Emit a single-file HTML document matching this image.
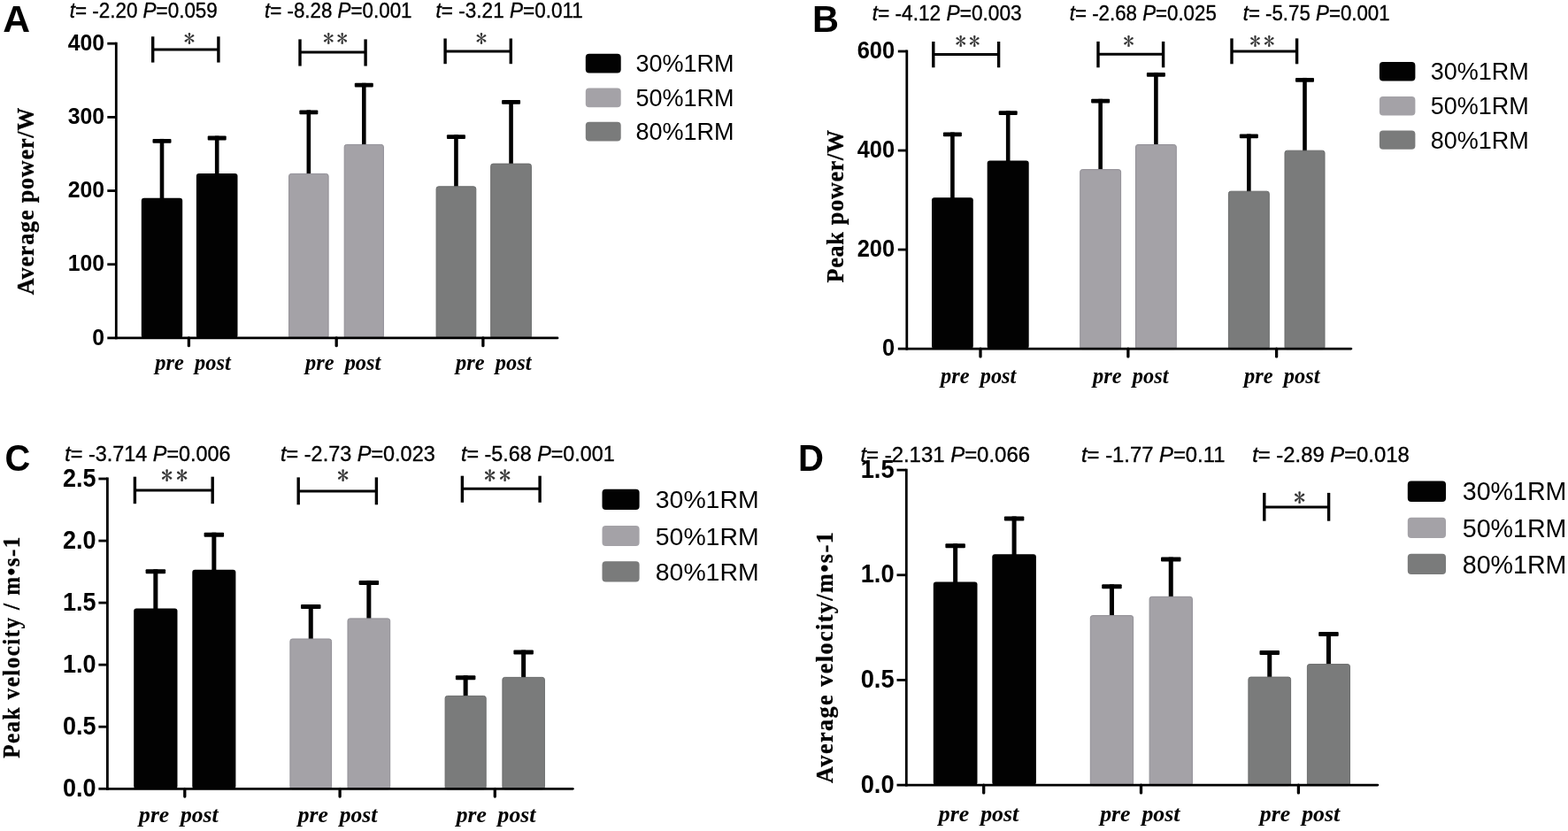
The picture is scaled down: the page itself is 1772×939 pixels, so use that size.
<!DOCTYPE html>
<html><head><meta charset="utf-8"><title>Figure</title>
<style>html,body{margin:0;padding:0;background:#fff;}svg{display:block;}</style>
</head><body>
<svg width="1772" height="939" viewBox="0 0 1772 939">
<rect width="1772" height="939" fill="#fff"/>
<text transform="translate(3.3,35.8) scale(0.985,1)" font-family="'Liberation Sans', Arial, sans-serif" font-weight="bold" font-size="43.3">A</text>
<rect x="180.7" y="156.9" width="4.6" height="68.9" fill="#000"/>
<rect x="172.5" y="156.9" width="21" height="4.8" rx="1" fill="#000"/>
<rect x="159.8" y="223.8" width="46.4" height="158.1" rx="3" fill="#020202"/>
<rect x="242.9" y="153.6" width="4.6" height="44.3" fill="#000"/>
<rect x="234.7" y="153.6" width="21" height="4.8" rx="1" fill="#000"/>
<rect x="221.9" y="195.9" width="46.6" height="186" rx="3" fill="#020202"/>
<rect x="346.55" y="124.4" width="4.6" height="73.5" fill="#000"/>
<rect x="338.35" y="124.4" width="21" height="4.8" rx="1" fill="#000"/>
<rect x="326.6" y="196.4" width="44.5" height="186" rx="2.5" fill="#a4a2a7" stroke="#918f96" stroke-width="1"/>
<rect x="409" y="93.8" width="4.6" height="71.1" fill="#000"/>
<rect x="400.8" y="93.8" width="21" height="4.8" rx="1" fill="#000"/>
<rect x="389.2" y="163.4" width="44.2" height="219" rx="2.5" fill="#a4a2a7" stroke="#918f96" stroke-width="1"/>
<rect x="513.15" y="152.2" width="4.6" height="60.1" fill="#000"/>
<rect x="504.95" y="152.2" width="21" height="4.8" rx="1" fill="#000"/>
<rect x="493.1" y="210.8" width="44.7" height="171.6" rx="2.5" fill="#7a7b7b" stroke="#6a6c6c" stroke-width="1"/>
<rect x="575.25" y="113" width="4.6" height="73.6" fill="#000"/>
<rect x="567.05" y="113" width="21" height="4.8" rx="1" fill="#000"/>
<rect x="554.7" y="185.1" width="45.7" height="197.3" rx="2.5" fill="#7a7b7b" stroke="#6a6c6c" stroke-width="1"/>
<line x1="131.3" y1="47.8" x2="131.3" y2="383.3" stroke="#000" stroke-width="2.8"/>
<line x1="131.3" y1="381.9" x2="630" y2="381.9" stroke="#000" stroke-width="2.8" stroke-linecap="round"/>
<line x1="121.3" y1="381.9" x2="131.3" y2="381.9" stroke="#000" stroke-width="2.8"/>
<text transform="translate(118,389.63) scale(1,1.06)" text-anchor="end" font-family="'Liberation Sans', Arial, sans-serif" font-weight="bold" font-size="24.8">0</text>
<line x1="121.3" y1="298.72" x2="131.3" y2="298.72" stroke="#000" stroke-width="2.8"/>
<text transform="translate(118,306.45) scale(1,1.06)" text-anchor="end" font-family="'Liberation Sans', Arial, sans-serif" font-weight="bold" font-size="24.8">100</text>
<line x1="121.3" y1="215.55" x2="131.3" y2="215.55" stroke="#000" stroke-width="2.8"/>
<text transform="translate(118,223.28) scale(1,1.06)" text-anchor="end" font-family="'Liberation Sans', Arial, sans-serif" font-weight="bold" font-size="24.8">200</text>
<line x1="121.3" y1="132.37" x2="131.3" y2="132.37" stroke="#000" stroke-width="2.8"/>
<text transform="translate(118,140.1) scale(1,1.06)" text-anchor="end" font-family="'Liberation Sans', Arial, sans-serif" font-weight="bold" font-size="24.8">300</text>
<line x1="121.3" y1="49.2" x2="131.3" y2="49.2" stroke="#000" stroke-width="2.8"/>
<text transform="translate(118,56.93) scale(1,1.06)" text-anchor="end" font-family="'Liberation Sans', Arial, sans-serif" font-weight="bold" font-size="24.8">400</text>
<line x1="213.4" y1="381.9" x2="213.4" y2="390.7" stroke="#000" stroke-width="3.3" stroke-linecap="round"/>
<text x="218" y="417.6" text-anchor="middle" font-family="'Liberation Serif', 'Times New Roman', serif" font-weight="bold" font-style="italic" font-size="24.4" xml:space="preserve">pre  post</text>
<line x1="380.2" y1="381.9" x2="380.2" y2="390.7" stroke="#000" stroke-width="3.3" stroke-linecap="round"/>
<text x="387.65" y="417.6" text-anchor="middle" font-family="'Liberation Serif', 'Times New Roman', serif" font-weight="bold" font-style="italic" font-size="24.4" xml:space="preserve">pre  post</text>
<line x1="545.9" y1="381.9" x2="545.9" y2="390.7" stroke="#000" stroke-width="3.3" stroke-linecap="round"/>
<text x="557.8" y="417.6" text-anchor="middle" font-family="'Liberation Serif', 'Times New Roman', serif" font-weight="bold" font-style="italic" font-size="24.4" xml:space="preserve">pre  post</text>
<line x1="172.7" y1="56.1" x2="246.9" y2="56.1" stroke="#000" stroke-width="3"/>
<line x1="172.7" y1="41.3" x2="172.7" y2="70.6" stroke="#000" stroke-width="3.4"/>
<line x1="246.9" y1="41.3" x2="246.9" y2="70.6" stroke="#000" stroke-width="3.4"/>
<text x="207.65" y="53" font-family="IPAGothic, sans-serif" font-size="25" fill="#333" stroke="#333" stroke-width="0.2" letter-spacing="3">*</text>
<line x1="339" y1="59.1" x2="413.1" y2="59.1" stroke="#000" stroke-width="3"/>
<line x1="339" y1="44.4" x2="339" y2="74.6" stroke="#000" stroke-width="3.4"/>
<line x1="413.1" y1="44.4" x2="413.1" y2="74.6" stroke="#000" stroke-width="3.4"/>
<text x="364.95" y="53" font-family="IPAGothic, sans-serif" font-size="25" fill="#333" stroke="#333" stroke-width="0.2" letter-spacing="3">**</text>
<line x1="503.1" y1="58.1" x2="577.3" y2="58.1" stroke="#000" stroke-width="3"/>
<line x1="503.1" y1="43.5" x2="503.1" y2="72.2" stroke="#000" stroke-width="3.4"/>
<line x1="577.3" y1="43.5" x2="577.3" y2="72.2" stroke="#000" stroke-width="3.4"/>
<text x="537.85" y="53" font-family="IPAGothic, sans-serif" font-size="25" fill="#333" stroke="#333" stroke-width="0.2" letter-spacing="3">*</text>
<text x="78.7" y="20.2" font-family="'Liberation Sans', Arial, sans-serif" font-size="23.5" textLength="167.1" lengthAdjust="spacingAndGlyphs" stroke="#000" stroke-width="0.35" xml:space="preserve"><tspan font-style="italic">t</tspan>= -2.20 <tspan font-style="italic">P</tspan>=0.059</text>
<text x="299" y="20.2" font-family="'Liberation Sans', Arial, sans-serif" font-size="23.5" textLength="166.5" lengthAdjust="spacingAndGlyphs" stroke="#000" stroke-width="0.35" xml:space="preserve"><tspan font-style="italic">t</tspan>= -8.28 <tspan font-style="italic">P</tspan>=0.001</text>
<text x="492.6" y="20.2" font-family="'Liberation Sans', Arial, sans-serif" font-size="23.5" textLength="166.3" lengthAdjust="spacingAndGlyphs" stroke="#000" stroke-width="0.35" xml:space="preserve"><tspan font-style="italic">t</tspan>= -3.21 <tspan font-style="italic">P</tspan>=0.011</text>
<text transform="translate(38.4,227.35) rotate(-90) scale(0.95,1)" x="0" y="0" text-anchor="middle" font-family="'Liberation Serif', 'Times New Roman', serif" font-weight="bold" font-size="27.5" textLength="222.84" lengthAdjust="spacing" stroke="#000" stroke-width="0.3">Average power/W</text>
<rect x="661.8" y="60.7" width="39.9" height="21.8" rx="4" fill="#020202"/>
<text x="718.5" y="81.1" font-family="'Liberation Sans', Arial, sans-serif" font-size="27">30%1RM</text>
<rect x="661.8" y="99.5" width="39.9" height="21.8" rx="4" fill="#a4a2a7"/>
<text x="718.5" y="119.9" font-family="'Liberation Sans', Arial, sans-serif" font-size="27">50%1RM</text>
<rect x="661.8" y="137.7" width="39.9" height="21.8" rx="4" fill="#7a7b7b"/>
<text x="718.5" y="158.1" font-family="'Liberation Sans', Arial, sans-serif" font-size="27">80%1RM</text>
<text transform="translate(918,35.8) scale(0.96,1)" font-family="'Liberation Sans', Arial, sans-serif" font-weight="bold" font-size="43.3">B</text>
<rect x="1074.1" y="149.5" width="4.6" height="75.8" fill="#000"/>
<rect x="1065.9" y="149.5" width="21" height="4.8" rx="1" fill="#000"/>
<rect x="1053" y="223.3" width="46.8" height="170.8" rx="3" fill="#020202"/>
<rect x="1136.9" y="125.2" width="4.6" height="58.4" fill="#000"/>
<rect x="1128.7" y="125.2" width="21" height="4.8" rx="1" fill="#000"/>
<rect x="1115.7" y="181.6" width="47" height="212.5" rx="3" fill="#020202"/>
<rect x="1241.35" y="111.8" width="4.6" height="81.3" fill="#000"/>
<rect x="1233.15" y="111.8" width="21" height="4.8" rx="1" fill="#000"/>
<rect x="1220.7" y="191.6" width="45.9" height="203" rx="2.5" fill="#a4a2a7" stroke="#918f96" stroke-width="1"/>
<rect x="1304.1" y="81.9" width="4.6" height="83.1" fill="#000"/>
<rect x="1295.9" y="81.9" width="21" height="4.8" rx="1" fill="#000"/>
<rect x="1283.5" y="163.5" width="45.8" height="231.1" rx="2.5" fill="#a4a2a7" stroke="#918f96" stroke-width="1"/>
<rect x="1409.05" y="151.5" width="4.6" height="66.2" fill="#000"/>
<rect x="1400.85" y="151.5" width="21" height="4.8" rx="1" fill="#000"/>
<rect x="1388.4" y="216.2" width="45.9" height="178.4" rx="2.5" fill="#7a7b7b" stroke="#6a6c6c" stroke-width="1"/>
<rect x="1472.2" y="87.9" width="4.6" height="83.8" fill="#000"/>
<rect x="1464" y="87.9" width="21" height="4.8" rx="1" fill="#000"/>
<rect x="1452" y="170.2" width="45" height="224.4" rx="2.5" fill="#7a7b7b" stroke="#6a6c6c" stroke-width="1"/>
<line x1="1024.8" y1="56.6" x2="1024.8" y2="395.5" stroke="#000" stroke-width="2.8"/>
<line x1="1024.8" y1="394.1" x2="1526.9" y2="394.1" stroke="#000" stroke-width="2.8" stroke-linecap="round"/>
<line x1="1014.8" y1="394.1" x2="1024.8" y2="394.1" stroke="#000" stroke-width="2.8"/>
<text transform="translate(1011.2,402.08) scale(1,1.06)" text-anchor="end" font-family="'Liberation Sans', Arial, sans-serif" font-weight="bold" font-size="25.5">0</text>
<line x1="1014.8" y1="282.07" x2="1024.8" y2="282.07" stroke="#000" stroke-width="2.8"/>
<text transform="translate(1011.2,290.05) scale(1,1.06)" text-anchor="end" font-family="'Liberation Sans', Arial, sans-serif" font-weight="bold" font-size="25.5">200</text>
<line x1="1014.8" y1="170.03" x2="1024.8" y2="170.03" stroke="#000" stroke-width="2.8"/>
<text transform="translate(1011.2,178.01) scale(1,1.06)" text-anchor="end" font-family="'Liberation Sans', Arial, sans-serif" font-weight="bold" font-size="25.5">400</text>
<line x1="1014.8" y1="58" x2="1024.8" y2="58" stroke="#000" stroke-width="2.8"/>
<text transform="translate(1011.2,65.98) scale(1,1.06)" text-anchor="end" font-family="'Liberation Sans', Arial, sans-serif" font-weight="bold" font-size="25.5">600</text>
<line x1="1108" y1="394.1" x2="1108" y2="402.9" stroke="#000" stroke-width="3.3" stroke-linecap="round"/>
<text x="1105.7" y="432.6" text-anchor="middle" font-family="'Liberation Serif', 'Times New Roman', serif" font-weight="bold" font-style="italic" font-size="24.4" xml:space="preserve">pre  post</text>
<line x1="1274.9" y1="394.1" x2="1274.9" y2="402.9" stroke="#000" stroke-width="3.3" stroke-linecap="round"/>
<text x="1277.8" y="432.6" text-anchor="middle" font-family="'Liberation Serif', 'Times New Roman', serif" font-weight="bold" font-style="italic" font-size="24.4" xml:space="preserve">pre  post</text>
<line x1="1442.6" y1="394.1" x2="1442.6" y2="402.9" stroke="#000" stroke-width="3.3" stroke-linecap="round"/>
<text x="1448.8" y="432.6" text-anchor="middle" font-family="'Liberation Serif', 'Times New Roman', serif" font-weight="bold" font-style="italic" font-size="24.4" xml:space="preserve">pre  post</text>
<line x1="1054.8" y1="61.6" x2="1128.6" y2="61.6" stroke="#000" stroke-width="3"/>
<line x1="1054.8" y1="47" x2="1054.8" y2="76.3" stroke="#000" stroke-width="3.4"/>
<line x1="1128.6" y1="47" x2="1128.6" y2="76.3" stroke="#000" stroke-width="3.4"/>
<text x="1079.4" y="56.1" font-family="IPAGothic, sans-serif" font-size="25" fill="#333" stroke="#333" stroke-width="0.2" letter-spacing="3.2">**</text>
<line x1="1241" y1="61.3" x2="1314.6" y2="61.3" stroke="#000" stroke-width="3"/>
<line x1="1241" y1="46.9" x2="1241" y2="76.3" stroke="#000" stroke-width="3.4"/>
<line x1="1314.6" y1="46.9" x2="1314.6" y2="76.3" stroke="#000" stroke-width="3.4"/>
<text x="1269.15" y="55.7" font-family="IPAGothic, sans-serif" font-size="25" fill="#333" stroke="#333" stroke-width="0.2" letter-spacing="3.2">*</text>
<line x1="1392" y1="57.9" x2="1465.6" y2="57.9" stroke="#000" stroke-width="3"/>
<line x1="1392" y1="43.4" x2="1392" y2="72.3" stroke="#000" stroke-width="3.4"/>
<line x1="1465.6" y1="43.4" x2="1465.6" y2="72.3" stroke="#000" stroke-width="3.4"/>
<text x="1412.3" y="55.7" font-family="IPAGothic, sans-serif" font-size="25" fill="#333" stroke="#333" stroke-width="0.2" letter-spacing="3.2">**</text>
<text x="985.7" y="22.6" font-family="'Liberation Sans', Arial, sans-serif" font-size="23.5" textLength="168.9" lengthAdjust="spacingAndGlyphs" stroke="#000" stroke-width="0.35" xml:space="preserve"><tspan font-style="italic">t</tspan>= -4.12 <tspan font-style="italic">P</tspan>=0.003</text>
<text x="1208.8" y="22.6" font-family="'Liberation Sans', Arial, sans-serif" font-size="23.5" textLength="166" lengthAdjust="spacingAndGlyphs" stroke="#000" stroke-width="0.35" xml:space="preserve"><tspan font-style="italic">t</tspan>= -2.68 <tspan font-style="italic">P</tspan>=0.025</text>
<text x="1404.7" y="22.6" font-family="'Liberation Sans', Arial, sans-serif" font-size="23.5" textLength="165.9" lengthAdjust="spacingAndGlyphs" stroke="#000" stroke-width="0.35" xml:space="preserve"><tspan font-style="italic">t</tspan>= -5.75 <tspan font-style="italic">P</tspan>=0.001</text>
<text transform="translate(953.2,233.1) rotate(-90) scale(0.95,1)" x="0" y="0" text-anchor="middle" font-family="'Liberation Serif', 'Times New Roman', serif" font-weight="bold" font-size="27.5" textLength="181.68" lengthAdjust="spacing" stroke="#000" stroke-width="0.3">Peak power/W</text>
<rect x="1558.9" y="70" width="40.5" height="21.4" rx="4" fill="#020202"/>
<text x="1616.8" y="90.3" font-family="'Liberation Sans', Arial, sans-serif" font-size="27">30%1RM</text>
<rect x="1558.9" y="109" width="40.5" height="21.4" rx="4" fill="#a4a2a7"/>
<text x="1616.8" y="129.3" font-family="'Liberation Sans', Arial, sans-serif" font-size="27">50%1RM</text>
<rect x="1558.9" y="147.4" width="40.5" height="21.4" rx="4" fill="#7a7b7b"/>
<text x="1616.8" y="167.7" font-family="'Liberation Sans', Arial, sans-serif" font-size="27">80%1RM</text>
<text transform="translate(5.6,532) scale(0.95,1)" font-family="'Liberation Sans', Arial, sans-serif" font-weight="bold" font-size="42">C</text>
<rect x="173.35" y="643.3" width="5" height="46.2" fill="#000"/>
<rect x="164.6" y="643.3" width="22.5" height="5" rx="1" fill="#000"/>
<rect x="151.2" y="687.5" width="49.3" height="203.8" rx="3" fill="#020202"/>
<rect x="239.35" y="601.7" width="5" height="44.1" fill="#000"/>
<rect x="230.6" y="601.7" width="22.5" height="5" rx="1" fill="#000"/>
<rect x="217.3" y="643.8" width="49.1" height="247.5" rx="3" fill="#020202"/>
<rect x="348.75" y="683" width="5" height="40.5" fill="#000"/>
<rect x="340" y="683" width="22.5" height="5" rx="1" fill="#000"/>
<rect x="327.9" y="722" width="46.7" height="169.8" rx="2.5" fill="#a4a2a7" stroke="#918f96" stroke-width="1"/>
<rect x="414.35" y="655.9" width="5" height="44.5" fill="#000"/>
<rect x="405.6" y="655.9" width="22.5" height="5" rx="1" fill="#000"/>
<rect x="393" y="698.9" width="47.7" height="192.9" rx="2.5" fill="#a4a2a7" stroke="#918f96" stroke-width="1"/>
<rect x="523.65" y="763.2" width="5" height="24.7" fill="#000"/>
<rect x="514.9" y="763.2" width="22.5" height="5" rx="1" fill="#000"/>
<rect x="503.1" y="786.4" width="46.1" height="105.4" rx="2.5" fill="#7a7b7b" stroke="#6a6c6c" stroke-width="1"/>
<rect x="589.15" y="734.6" width="5" height="32.3" fill="#000"/>
<rect x="580.4" y="734.6" width="22.5" height="5" rx="1" fill="#000"/>
<rect x="567.9" y="765.4" width="47.5" height="126.4" rx="2.5" fill="#7a7b7b" stroke="#6a6c6c" stroke-width="1"/>
<line x1="121.4" y1="539.6" x2="121.4" y2="892.7" stroke="#000" stroke-width="2.8"/>
<line x1="121.4" y1="891.3" x2="647.3" y2="891.3" stroke="#000" stroke-width="2.8" stroke-linecap="round"/>
<line x1="111.4" y1="891.3" x2="121.4" y2="891.3" stroke="#000" stroke-width="2.8"/>
<text transform="translate(108.6,899.82) scale(1,1.06)" text-anchor="end" font-family="'Liberation Sans', Arial, sans-serif" font-weight="bold" font-size="27">0.0</text>
<line x1="111.4" y1="821.24" x2="121.4" y2="821.24" stroke="#000" stroke-width="2.8"/>
<text transform="translate(108.6,829.76) scale(1,1.06)" text-anchor="end" font-family="'Liberation Sans', Arial, sans-serif" font-weight="bold" font-size="27">0.5</text>
<line x1="111.4" y1="751.18" x2="121.4" y2="751.18" stroke="#000" stroke-width="2.8"/>
<text transform="translate(108.6,759.7) scale(1,1.06)" text-anchor="end" font-family="'Liberation Sans', Arial, sans-serif" font-weight="bold" font-size="27">1.0</text>
<line x1="111.4" y1="681.12" x2="121.4" y2="681.12" stroke="#000" stroke-width="2.8"/>
<text transform="translate(108.6,689.64) scale(1,1.06)" text-anchor="end" font-family="'Liberation Sans', Arial, sans-serif" font-weight="bold" font-size="27">1.5</text>
<line x1="111.4" y1="611.06" x2="121.4" y2="611.06" stroke="#000" stroke-width="2.8"/>
<text transform="translate(108.6,619.58) scale(1,1.06)" text-anchor="end" font-family="'Liberation Sans', Arial, sans-serif" font-weight="bold" font-size="27">2.0</text>
<line x1="111.4" y1="541" x2="121.4" y2="541" stroke="#000" stroke-width="2.8"/>
<text transform="translate(108.6,549.52) scale(1,1.06)" text-anchor="end" font-family="'Liberation Sans', Arial, sans-serif" font-weight="bold" font-size="27">2.5</text>
<line x1="208.8" y1="891.3" x2="208.8" y2="900.1" stroke="#000" stroke-width="3.3" stroke-linecap="round"/>
<text x="201.9" y="928.7" text-anchor="middle" font-family="'Liberation Serif', 'Times New Roman', serif" font-weight="bold" font-style="italic" font-size="25.6" xml:space="preserve">pre  post</text>
<line x1="384.1" y1="891.3" x2="384.1" y2="900.1" stroke="#000" stroke-width="3.3" stroke-linecap="round"/>
<text x="381.6" y="928.7" text-anchor="middle" font-family="'Liberation Serif', 'Times New Roman', serif" font-weight="bold" font-style="italic" font-size="25.6" xml:space="preserve">pre  post</text>
<line x1="559.3" y1="891.3" x2="559.3" y2="900.1" stroke="#000" stroke-width="3.3" stroke-linecap="round"/>
<text x="560.5" y="928.7" text-anchor="middle" font-family="'Liberation Serif', 'Times New Roman', serif" font-weight="bold" font-style="italic" font-size="25.6" xml:space="preserve">pre  post</text>
<line x1="152.4" y1="553.9" x2="240.2" y2="553.9" stroke="#000" stroke-width="3"/>
<line x1="152.4" y1="538.7" x2="152.4" y2="569.2" stroke="#000" stroke-width="3.4"/>
<line x1="240.2" y1="538.7" x2="240.2" y2="569.2" stroke="#000" stroke-width="3.4"/>
<text x="182.07" y="546.57" font-family="IPAGothic, sans-serif" font-size="26.5" fill="#333" stroke="#333" stroke-width="0.2" letter-spacing="3.75">**</text>
<line x1="337.2" y1="555.1" x2="425.4" y2="555.1" stroke="#000" stroke-width="3"/>
<line x1="337.2" y1="539.4" x2="337.2" y2="570.3" stroke="#000" stroke-width="3.4"/>
<line x1="425.4" y1="539.4" x2="425.4" y2="570.3" stroke="#000" stroke-width="3.4"/>
<text x="380.88" y="546.57" font-family="IPAGothic, sans-serif" font-size="26.5" fill="#333" stroke="#333" stroke-width="0.2" letter-spacing="3.75">*</text>
<line x1="522.4" y1="552.2" x2="610.1" y2="552.2" stroke="#000" stroke-width="3"/>
<line x1="522.4" y1="537.7" x2="522.4" y2="567.8" stroke="#000" stroke-width="3.4"/>
<line x1="610.1" y1="537.7" x2="610.1" y2="567.8" stroke="#000" stroke-width="3.4"/>
<text x="546.98" y="546.57" font-family="IPAGothic, sans-serif" font-size="26.5" fill="#333" stroke="#333" stroke-width="0.2" letter-spacing="3.75">**</text>
<text x="73.3" y="521.3" font-family="'Liberation Sans', Arial, sans-serif" font-size="23.5" textLength="187.3" lengthAdjust="spacingAndGlyphs" stroke="#000" stroke-width="0.35" xml:space="preserve"><tspan font-style="italic">t</tspan>= -3.714 <tspan font-style="italic">P</tspan>=0.006</text>
<text x="317.1" y="521.3" font-family="'Liberation Sans', Arial, sans-serif" font-size="23.5" textLength="174.6" lengthAdjust="spacingAndGlyphs" stroke="#000" stroke-width="0.35" xml:space="preserve"><tspan font-style="italic">t</tspan>= -2.73 <tspan font-style="italic">P</tspan>=0.023</text>
<text x="521" y="521.3" font-family="'Liberation Sans', Arial, sans-serif" font-size="23.5" textLength="173.6" lengthAdjust="spacingAndGlyphs" stroke="#000" stroke-width="0.35" xml:space="preserve"><tspan font-style="italic">t</tspan>= -5.68 <tspan font-style="italic">P</tspan>=0.001</text>
<text transform="translate(22.4,731.7) rotate(-90) scale(0.95,1)" x="0" y="0" text-anchor="middle" font-family="'Liberation Serif', 'Times New Roman', serif" font-weight="bold" font-size="26.5" textLength="263.37" lengthAdjust="spacing" stroke="#000" stroke-width="0.3">Peak velocity / m•s-1</text>
<rect x="680.5" y="552.7" width="42.1" height="23.2" rx="4" fill="#020202"/>
<text x="740.8" y="574.3" font-family="'Liberation Sans', Arial, sans-serif" font-size="28.4">30%1RM</text>
<rect x="680.5" y="593.9" width="42.1" height="23.2" rx="4" fill="#a4a2a7"/>
<text x="740.8" y="615.5" font-family="'Liberation Sans', Arial, sans-serif" font-size="28.4">50%1RM</text>
<rect x="680.5" y="634.2" width="42.1" height="23.2" rx="4" fill="#7a7b7b"/>
<text x="740.8" y="655.8" font-family="'Liberation Sans', Arial, sans-serif" font-size="28.4">80%1RM</text>
<text transform="translate(901.9,531.9) scale(0.955,1)" font-family="'Liberation Sans', Arial, sans-serif" font-weight="bold" font-size="42">D</text>
<rect x="1077.15" y="614.2" width="5" height="45.4" fill="#000"/>
<rect x="1068.4" y="614.2" width="22.5" height="5" rx="1" fill="#000"/>
<rect x="1054.8" y="657.6" width="49.7" height="229.5" rx="3" fill="#020202"/>
<rect x="1143.6" y="583.5" width="5" height="44.8" fill="#000"/>
<rect x="1134.85" y="583.5" width="22.5" height="5" rx="1" fill="#000"/>
<rect x="1121.3" y="626.3" width="49.6" height="260.8" rx="3" fill="#020202"/>
<rect x="1253.95" y="660.3" width="5" height="36.8" fill="#000"/>
<rect x="1245.2" y="660.3" width="22.5" height="5" rx="1" fill="#000"/>
<rect x="1232.3" y="695.6" width="48.3" height="192" rx="2.5" fill="#a4a2a7" stroke="#918f96" stroke-width="1"/>
<rect x="1320.75" y="629.6" width="5" height="46.2" fill="#000"/>
<rect x="1312" y="629.6" width="22.5" height="5" rx="1" fill="#000"/>
<rect x="1299.1" y="674.3" width="48.3" height="213.3" rx="2.5" fill="#a4a2a7" stroke="#918f96" stroke-width="1"/>
<rect x="1432.25" y="735" width="5" height="31.6" fill="#000"/>
<rect x="1423.5" y="735" width="22.5" height="5" rx="1" fill="#000"/>
<rect x="1410.9" y="765.1" width="47.7" height="122.5" rx="2.5" fill="#7a7b7b" stroke="#6a6c6c" stroke-width="1"/>
<rect x="1498.95" y="714" width="5" height="38.1" fill="#000"/>
<rect x="1490.2" y="714" width="22.5" height="5" rx="1" fill="#000"/>
<rect x="1477.4" y="750.6" width="48.1" height="137" rx="2.5" fill="#7a7b7b" stroke="#6a6c6c" stroke-width="1"/>
<line x1="1024.3" y1="529.7" x2="1024.3" y2="888.5" stroke="#000" stroke-width="2.8"/>
<line x1="1024.3" y1="887.1" x2="1556.9" y2="887.1" stroke="#000" stroke-width="2.8" stroke-linecap="round"/>
<line x1="1013.5" y1="887.1" x2="1024.3" y2="887.1" stroke="#000" stroke-width="2.8"/>
<text transform="translate(1010.6,895.73) scale(1,1.06)" text-anchor="end" font-family="'Liberation Sans', Arial, sans-serif" font-weight="bold" font-size="27.3">0.0</text>
<line x1="1013.5" y1="768.43" x2="1024.3" y2="768.43" stroke="#000" stroke-width="2.8"/>
<text transform="translate(1010.6,777.06) scale(1,1.06)" text-anchor="end" font-family="'Liberation Sans', Arial, sans-serif" font-weight="bold" font-size="27.3">0.5</text>
<line x1="1013.5" y1="649.77" x2="1024.3" y2="649.77" stroke="#000" stroke-width="2.8"/>
<text transform="translate(1010.6,658.39) scale(1,1.06)" text-anchor="end" font-family="'Liberation Sans', Arial, sans-serif" font-weight="bold" font-size="27.3">1.0</text>
<line x1="1013.5" y1="531.1" x2="1024.3" y2="531.1" stroke="#000" stroke-width="2.8"/>
<text transform="translate(1010.6,539.73) scale(1,1.06)" text-anchor="end" font-family="'Liberation Sans', Arial, sans-serif" font-weight="bold" font-size="27.3">1.5</text>
<line x1="1111.7" y1="887.1" x2="1111.7" y2="895.9" stroke="#000" stroke-width="3.3" stroke-linecap="round"/>
<text x="1106" y="928.4" text-anchor="middle" font-family="'Liberation Serif', 'Times New Roman', serif" font-weight="bold" font-style="italic" font-size="25.8" xml:space="preserve">pre  post</text>
<line x1="1289.5" y1="887.1" x2="1289.5" y2="895.9" stroke="#000" stroke-width="3.3" stroke-linecap="round"/>
<text x="1288.3" y="928.4" text-anchor="middle" font-family="'Liberation Serif', 'Times New Roman', serif" font-weight="bold" font-style="italic" font-size="25.8" xml:space="preserve">pre  post</text>
<line x1="1467.4" y1="887.1" x2="1467.4" y2="895.9" stroke="#000" stroke-width="3.3" stroke-linecap="round"/>
<text x="1469" y="928.4" text-anchor="middle" font-family="'Liberation Serif', 'Times New Roman', serif" font-weight="bold" font-style="italic" font-size="25.8" xml:space="preserve">pre  post</text>
<line x1="1428.8" y1="572.9" x2="1501.6" y2="572.9" stroke="#000" stroke-width="3"/>
<line x1="1428.8" y1="556.9" x2="1428.8" y2="588.7" stroke="#000" stroke-width="3.4"/>
<line x1="1501.6" y1="556.9" x2="1501.6" y2="588.7" stroke="#000" stroke-width="3.4"/>
<text x="1461.88" y="571.67" font-family="IPAGothic, sans-serif" font-size="26.5" fill="#333" stroke="#333" stroke-width="0.2" letter-spacing="3.75">*</text>
<text x="972.4" y="521.9" font-family="'Liberation Sans', Arial, sans-serif" font-size="23.5" textLength="191.6" lengthAdjust="spacingAndGlyphs" stroke="#000" stroke-width="0.35" xml:space="preserve"><tspan font-style="italic">t</tspan>= -2.131 <tspan font-style="italic">P</tspan>=0.066</text>
<text x="1222" y="521.9" font-family="'Liberation Sans', Arial, sans-serif" font-size="23.5" textLength="162.4" lengthAdjust="spacingAndGlyphs" stroke="#000" stroke-width="0.35" xml:space="preserve"><tspan font-style="italic">t</tspan>= -1.77 <tspan font-style="italic">P</tspan>=0.11</text>
<text x="1415.2" y="521.9" font-family="'Liberation Sans', Arial, sans-serif" font-size="23.5" textLength="177.5" lengthAdjust="spacingAndGlyphs" stroke="#000" stroke-width="0.35" xml:space="preserve"><tspan font-style="italic">t</tspan>= -2.89 <tspan font-style="italic">P</tspan>=0.018</text>
<text transform="translate(941,743.1) rotate(-90) scale(0.95,1)" x="0" y="0" text-anchor="middle" font-family="'Liberation Serif', 'Times New Roman', serif" font-weight="bold" font-size="27.5" textLength="298.53" lengthAdjust="spacing" stroke="#000" stroke-width="0.3">Average velocity/m•s-1</text>
<rect x="1590.8" y="543.6" width="43.2" height="23.3" rx="4" fill="#020202"/>
<text x="1652.8" y="565.4" font-family="'Liberation Sans', Arial, sans-serif" font-size="28.6">30%1RM</text>
<rect x="1590.8" y="584.7" width="43.2" height="23.3" rx="4" fill="#a4a2a7"/>
<text x="1652.8" y="606.5" font-family="'Liberation Sans', Arial, sans-serif" font-size="28.6">50%1RM</text>
<rect x="1590.8" y="625.8" width="43.2" height="23.3" rx="4" fill="#7a7b7b"/>
<text x="1652.8" y="647.6" font-family="'Liberation Sans', Arial, sans-serif" font-size="28.6">80%1RM</text>
</svg>
</body></html>
